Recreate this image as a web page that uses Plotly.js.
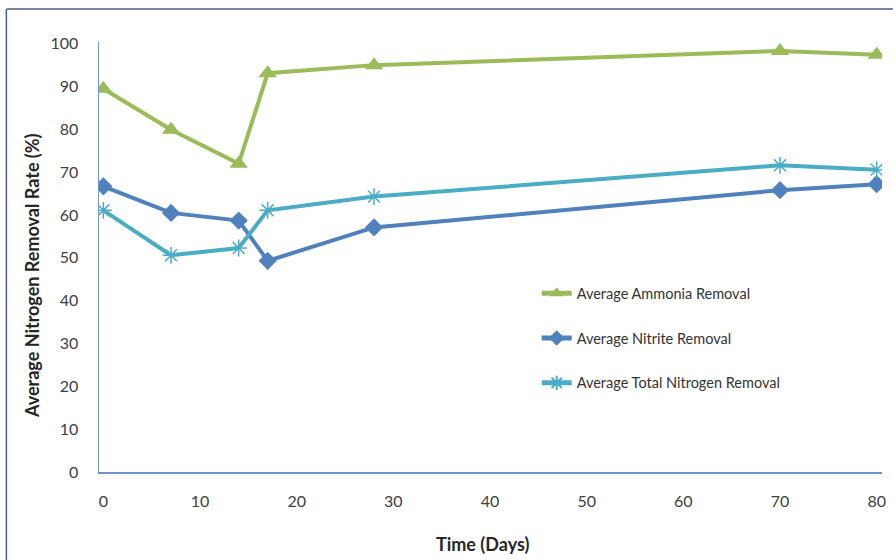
<!DOCTYPE html>
<html>
<head>
<meta charset="utf-8">
<script src="https://cdn.plot.ly/plotly-3.0.1.min.js"></script>
<style>
  html, body { margin: 0; padding: 0; background: #ffffff; }
  #chart { width: 893px; height: 560px; }
</style>
</head>
<body>
<div id="chart"></div>
<script>
// ---- Data ----
const days = [0, 7, 14, 17, 28, 70, 80];
const ammoniaRemoval = [89.5, 79.9, 72.0, 93.1, 95.0, 98.3, 97.4];
const nitriteRemoval = [66.7, 60.5, 58.7, 49.3, 57.1, 65.8, 67.2];
const totalNitrogenRemoval = [61.1, 50.6, 52.3, 61.1, 64.3, 71.6, 70.6];
const seriesNames = ["Average Ammonia Removal", "Average Nitrite Removal", "Average Total Nitrogen Removal"];
const xTickValues = [0, 10, 20, 30, 40, 50, 60, 70, 80];
const yTickValues = [0, 10, 20, 30, 40, 50, 60, 70, 80, 90, 100];
const xTitle = "Time (Days)";
const yTitle = "Average Nitrogen Removal Rate (%)";

const green = "#9bbb59", blue = "#4f81bd", cyan = "#4bacc6";
const font = "Lato, 'Open Sans', sans-serif";

const traces = [
  {
    x: days, y: ammoniaRemoval, name: seriesNames[0], type: "scatter", mode: "lines+markers",
    legendgroup: "a",
    line: { color: green, width: 4 },
    marker: { symbol: "triangle-up", size: 16, color: green }
  },
  {
    x: days, y: nitriteRemoval, name: seriesNames[1], type: "scatter", mode: "lines+markers",
    legendgroup: "b",
    line: { color: blue, width: 4 },
    marker: { symbol: "diamond", size: 14, color: blue }
  },
  {
    x: days, y: totalNitrogenRemoval, name: seriesNames[2], type: "scatter", mode: "lines+markers",
    legendgroup: "c",
    line: { color: cyan, width: 4 },
    marker: { symbol: "asterisk-open", size: 14, color: cyan, line: { color: cyan, width: 1.5 } }
  }
];

const frameColor = "#4a5a8c";
const titleFont = { family: font, size: 18, color: "#262626", weight: "bold" };
const layout = {
  width: 893, height: 560,
  margin: { l: 99, r: 11, t: 42, b: 88 },
  paper_bgcolor: "#ffffff", plot_bgcolor: "#ffffff",
  font: { family: font, size: 16, color: "#404040" },
  showlegend: true,
  legend: {
    x: 0.559, y: 0.453, xanchor: "left", yanchor: "top",
    bgcolor: "rgba(0,0,0,0)",
    font: { family: font, size: 14.5, color: "#333333" },
    traceorder: "grouped",
    tracegroupgap: 23,
    itemwidth: 30,
    itemsizing: "constant"
  },
  xaxis: {
    range: [-0.45, 80.55],
    tickvals: xTickValues,
    ticktext: xTickValues.map(String),
    showgrid: false, zeroline: false,
    showline: true, linecolor: "#6f93cc", linewidth: 1.5,
    ticks: "", ticklabelstandoff: 14,
    tickfont: { family: font, size: 16, color: "#404040" }
  },
  yaxis: {
    range: [0, 100.4],
    tickvals: yTickValues,
    ticktext: yTickValues.map(String),
    showgrid: false, zeroline: false,
    showline: true, linecolor: "#6f93cc", linewidth: 1.5,
    ticks: "", ticklabelstandoff: 16,
    tickfont: { family: font, size: 16, color: "#404040" }
  },
  annotations: [
    { text: xTitle, xref: "paper", yref: "paper", x: (482.5 - 99) / 783, y: (472 - 544) / 430,
      xanchor: "center", yanchor: "middle", showarrow: false, font: titleFont },
    { text: yTitle, xref: "paper", yref: "paper", x: (32 - 99) / 783, y: (472 - 276) / 430,
      xanchor: "center", yanchor: "middle", showarrow: false, textangle: -90, font: titleFont }
  ],
  shapes: [
    { type: "line", xref: "paper", yref: "paper", x0: -0.118, x1: 1.02, y0: 1.0767, y1: 1.0767,
      line: { color: frameColor, width: 1.5 } },
    { type: "line", xref: "paper", yref: "paper", x0: -0.1183, x1: -0.1183, y0: 1.0767, y1: -0.21,
      line: { color: frameColor, width: 1.5 } }
  ]
};

Plotly.newPlot("chart", traces, layout, { displayModeBar: false, staticPlot: true });
</script>
</body>
</html>
